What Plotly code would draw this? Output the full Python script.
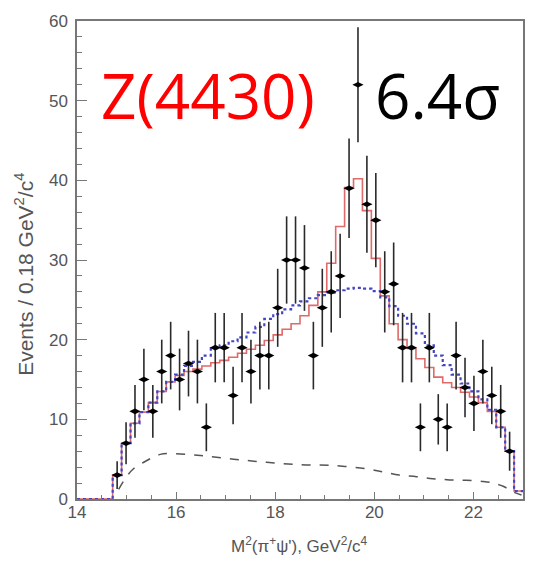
import numpy as np
import plotly.graph_objects as go

# ---- data ----
bin_width = 0.18
x_start = 14.0
n_bins = 50

# observed events (bins 4..48)
data_counts = [3, 7, 11, 15, 11, 16, 18, 15, 17, 16, 9, 19, 19, 13, 19, 16, 18, 18, 24, 30,
               30, 29, 18, 24, 26, 28, 39, 52, 37, 35, 26, 27, 19, 19, 9, 19, 10, 9, 18, 14,
               12, 16, 13, 11, 6]
first_data_bin = 4

# fit with Z(4430) (red histogram), bins 0..49
fit_signal = [0, 0, 0, 0, 3.0, 7.0, 9.5, 10.9, 12.1, 13.5,
              14.7, 15.5, 16.0, 16.3, 16.7, 17.1, 17.4, 17.8, 18.3, 18.8,
              19.3, 19.9, 20.6, 21.3, 22.0, 23.0, 24.3, 26.0, 29.6, 34.2,
              39.1, 40.2, 36.2, 30.2, 25.5, 22.0, 20.0, 18.9, 17.6, 16.5,
              15.3, 14.6, 14.0, 13.4, 12.8, 12.1, 11.0, 9.0, 6.0, 1.0]

# fit without Z (blue dotted histogram), bins 0..49
fit_noz = [0, 0, 0, 0, 3.0, 7.0, 9.5, 10.9, 12.1, 13.5,
           14.7, 15.6, 16.7, 17.2, 18.0, 18.9, 19.3, 19.8, 20.3, 20.9,
           21.6, 22.6, 23.2, 23.8, 24.3, 24.8, 25.2, 25.6, 25.9, 26.2,
           26.4, 26.5, 26.4, 26.1, 25.3, 24.2, 23.0, 22.0, 20.8, 19.3,
           18.0, 16.8, 15.6, 14.5, 13.5, 12.5, 11.2, 9.0, 6.0, 1.0]

# background (black dashed)
bkg_x = [14.84, 15.0, 15.14, 15.4, 15.68, 15.88, 16.49, 17.16, 17.83, 18.5, 19.17, 19.84,
         20.18, 20.5, 20.85, 21.18, 21.52, 21.86, 22.2, 22.4, 22.6, 22.8, 22.97]
bkg_y = [1.2, 2.8, 3.8, 4.8, 5.6, 5.7, 5.45, 5.0, 4.6, 4.3, 4.2, 3.8,
         3.4, 3.0, 2.8, 2.55, 2.4, 2.35, 2.2, 2.0, 1.6, 0.9, 0.5]

x_ticks = [14, 16, 18, 20, 22]
y_ticks = [0, 10, 20, 30, 40, 50, 60]

# ---- derived ----
edges = x_start + bin_width * np.arange(n_bins + 1)
centers = edges[:-1] + bin_width / 2
pt_x = centers[first_data_bin:first_data_bin + len(data_counts)]
pt_y = np.array(data_counts, dtype=float)
pt_err = np.sqrt(pt_y)

step_x = list(edges)
sig_y = fit_signal + [fit_signal[-1]]
noz_y = fit_noz + [fit_noz[-1]]

fig = go.Figure()
fig.add_trace(go.Scatter(x=bkg_x, y=bkg_y, mode="lines", line_shape="spline",
                         line=dict(color="#555555", width=1.5, dash="dash"), hoverinfo="skip"))
fig.add_trace(go.Scatter(x=step_x, y=sig_y, mode="lines", line_shape="hv",
                         line=dict(color="#de6a6a", width=1.6)))
fig.add_trace(go.Scatter(x=step_x, y=noz_y, mode="lines", line_shape="hv",
                         line=dict(color="#4444c4", width=2.2, dash="dot")))
fig.add_trace(go.Scatter(x=pt_x, y=pt_y, mode="markers",
                         marker=dict(symbol="diamond-wide", size=8, color="black"),
                         error_y=dict(type="data", array=pt_err, width=0, thickness=1.6, color="#2a2a2a")))

axis_common = dict(showgrid=False, zeroline=False, showline=True, linecolor="#777777",
                   linewidth=1.5, mirror=True, ticks="inside", tickcolor="#777777",
                   tickfont=dict(family="Liberation Sans, Arial", size=17, color="#555555"))

fig.update_xaxes(range=[14, 23], tickvals=x_ticks, ticklen=7, tickwidth=1.3,
                 ticklabelstandoff=-3,
                 minor=dict(dtick=0.5, ticklen=4, tickcolor="#777777", ticks="inside"),
                 **axis_common)
fig.update_yaxes(range=[0, 60], tickvals=y_ticks, ticklen=10, tickwidth=1.3,
                 ticklabelstandoff=4,
                 minor=dict(dtick=2, ticklen=5, tickcolor="#777777", ticks="inside"),
                 **axis_common)

fig.update_layout(
    width=537, height=561,
    margin=dict(l=77, r=14, t=15, b=62),
    paper_bgcolor="white", plot_bgcolor="white",
    showlegend=False,
    annotations=[
        dict(text="Z(4430)", xref="paper", yref="paper", x=(208 - 77) / 446, y=(499 - 90) / 484,
             showarrow=False, font=dict(family="Open Sans", size=62, color="#ff0000"),
             xanchor="center", yanchor="middle"),
        dict(text="6.4σ", xref="paper", yref="paper", x=(437 - 77) / 446, y=(499 - 90) / 484,
             showarrow=False, font=dict(family="Open Sans", size=62, color="black"),
             xanchor="center", yanchor="middle"),
        dict(text="Events / 0.18 GeV<sup>2</sup>/c<sup>4</sup>", xref="paper", yref="paper",
             x=(24 - 77) / 446, y=(499 - 272) / 484, textangle=-90, showarrow=False,
             font=dict(family="Liberation Sans, Arial", size=21, color="#555555"),
             xanchor="center", yanchor="middle"),
        dict(text="M<sup>2</sup>(π<sup>+</sup>ψ'), GeV<sup>2</sup>/c<sup>4</sup>", xref="paper", yref="paper",
             x=(299 - 77) / 446, y=(499 - 546) / 484, showarrow=False,
             font=dict(family="Liberation Sans, Arial", size=17, color="#555555"),
             xanchor="center", yanchor="middle"),
    ],
)

fig.write_html("out.html")
